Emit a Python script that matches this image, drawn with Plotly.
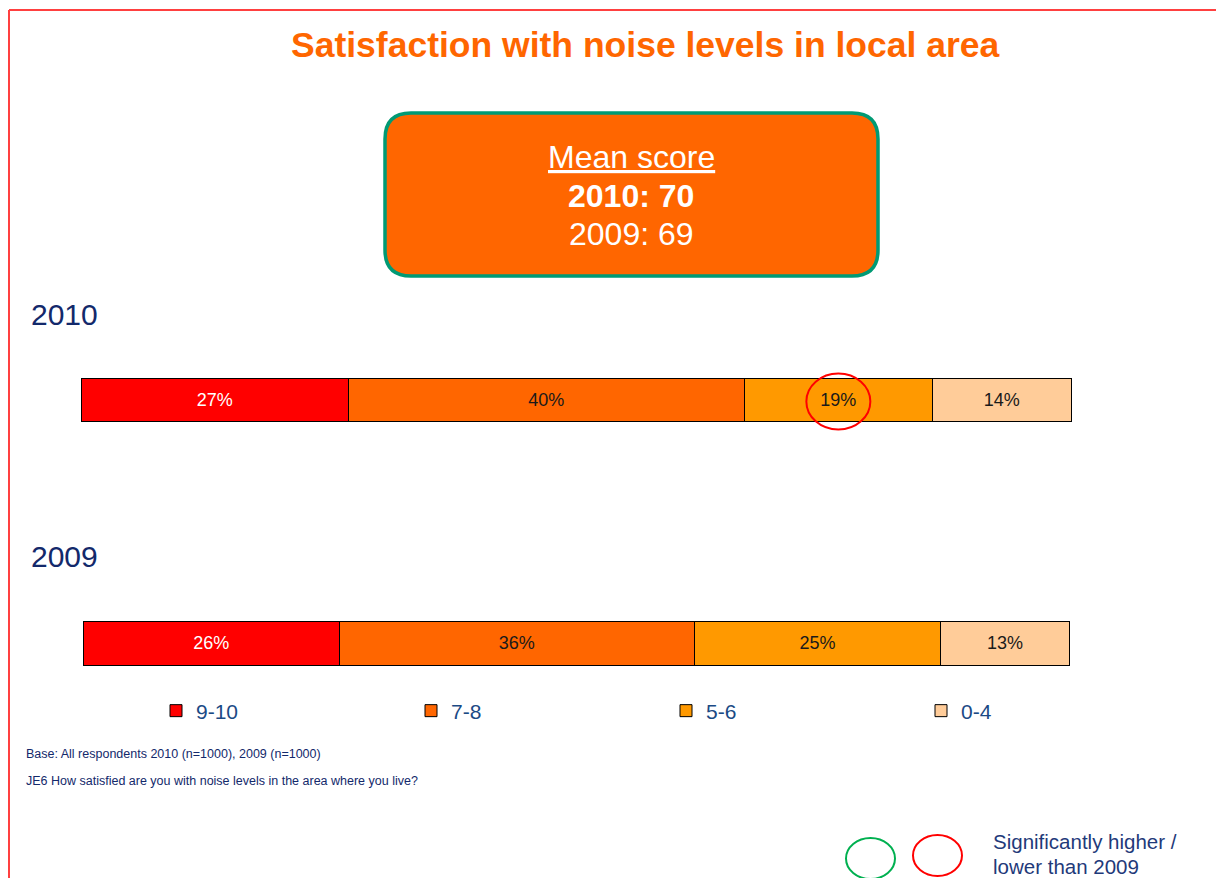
import plotly.graph_objects as go

# ---------------- data ----------------
years = ["2010", "2009"]
categories = ["9-10", "7-8", "5-6", "0-4"]
values_2010 = [27, 40, 19, 14]
values_2009 = [26, 36, 25, 13]
colors = ["#FF0000", "#FF6600", "#FF9900", "#FFCC99"]
text_colors = ["#FFFFFF", "#1A1A1A", "#1A1A1A", "#1A1A1A"]
mean_2010 = 70
mean_2009 = 69
title = "Satisfaction with noise levels in local area"
base_note = "Base: All respondents 2010 (n=1000), 2009 (n=1000)"
question_note = "JE6 How satisfied are you with noise levels in the area where you live?"
sig_note = ["Significantly higher /", "lower than 2009"]
highlight_cat = 2  # 5-6 in 2010 significantly lower

W, H = 1216, 878
FONT = "Liberation Sans, Arial, sans-serif"
NAVY = "#13296B"


def px(x):
    return x / W


def py(y):
    return 1 - y / H


fig = go.Figure()

for i, cat in enumerate(categories):
    fig.add_trace(go.Bar(
        y=[years[0]], x=[values_2010[i]], orientation="h", name=cat,
        legendgroup=cat, showlegend=True,
        marker=dict(color=colors[i], line=dict(color="#000000", width=1)),
        texttemplate="%{x}%", textposition="inside", insidetextanchor="middle",
        textangle=0, constraintext="none", cliponaxis=False,
        textfont=dict(size=18, color=text_colors[i], family=FONT),
        width=0.177, xaxis="x", yaxis="y", hoverinfo="skip",
    ))
for i, cat in enumerate(categories):
    fig.add_trace(go.Bar(
        y=[years[1]], x=[values_2009[i]], orientation="h", name=cat,
        legendgroup=cat, showlegend=False,
        marker=dict(color=colors[i], line=dict(color="#000000", width=1)),
        texttemplate="%{x}%", textposition="inside", insidetextanchor="middle",
        textangle=0, constraintext="none", cliponaxis=False,
        textfont=dict(size=18, color=text_colors[i], family=FONT),
        width=0.177, xaxis="x2", yaxis="y", hoverinfo="skip",
    ))

# ---------------- shapes ----------------
shapes = []
# frame (top + left)
shapes.append(dict(type="line", xref="paper", yref="paper", x0=px(9), y0=py(10), x1=px(1216), y1=py(10),
                   line=dict(color="#FF4040", width=2)))
shapes.append(dict(type="line", xref="paper", yref="paper", x0=px(9), y0=py(10), x1=px(9), y1=py(878),
                   line=dict(color="#FF4040", width=2)))

# rounded mean-score box
bx0, bx1, by0, by1, r = 385, 878, 113, 276, 26
path = (f"M {px(bx0 + r)},{py(by0)} L {px(bx1 - r)},{py(by0)} "
        f"Q {px(bx1)},{py(by0)} {px(bx1)},{py(by0 + r)} "
        f"L {px(bx1)},{py(by1 - r)} Q {px(bx1)},{py(by1)} {px(bx1 - r)},{py(by1)} "
        f"L {px(bx0 + r)},{py(by1)} Q {px(bx0)},{py(by1)} {px(bx0)},{py(by1 - r)} "
        f"L {px(bx0)},{py(by0 + r)} Q {px(bx0)},{py(by0)} {px(bx0 + r)},{py(by0)} Z")
shapes.append(dict(type="path", xref="paper", yref="paper", path=path,
                   fillcolor="#FF6600", line=dict(color="#009A74", width=3.5), layer="below"))

# significance circle around highlighted 2010 value
hx = sum(values_2010[:highlight_cat]) + values_2010[highlight_cat] / 2
shapes.append(dict(type="circle", xref="x", yref="y", xsizemode="pixel", ysizemode="pixel",
                   xanchor=hx, yanchor=0, x0=-32, x1=32, y0=-29, y1=27,
                   line=dict(color="#FF0000", width=2), layer="above"))

# key circles bottom right
shapes.append(dict(type="circle", xref="paper", yref="paper",
                   x0=px(846), x1=px(895), y0=py(838), y1=py(879),
                   line=dict(color="#00B050", width=2)))
shapes.append(dict(type="circle", xref="paper", yref="paper",
                   x0=px(913), x1=px(962), y0=py(835), y1=py(876),
                   line=dict(color="#FF0000", width=2)))

# ---------------- annotations ----------------
ann = []
ann.append(dict(text=f"<b>{title}</b>", x=px(645), y=py(45), xref="paper", yref="paper",
                xanchor="center", yanchor="middle", showarrow=False,
                font=dict(size=35.5, color="#FF6600", family=FONT)))
ann.append(dict(text="<u>Mean score</u>", x=px(631), y=py(157), xref="paper", yref="paper",
                xanchor="center", yanchor="middle", showarrow=False,
                font=dict(size=32, color="#FFFFFF", family=FONT)))
ann.append(dict(text=f"<b>{years[0]}: {mean_2010}</b>", x=px(631), y=py(196), xref="paper", yref="paper",
                xanchor="center", yanchor="middle", showarrow=False,
                font=dict(size=32, color="#FFFFFF", family=FONT)))
ann.append(dict(text=f"{years[1]}: {mean_2009}", x=px(631), y=py(234), xref="paper", yref="paper",
                xanchor="center", yanchor="middle", showarrow=False,
                font=dict(size=32, color="#FFFFFF", family=FONT)))
ann.append(dict(text=years[0], x=px(29), y=py(315), xref="paper", yref="paper",
                xanchor="left", yanchor="middle", showarrow=False,
                font=dict(size=30, color=NAVY, family=FONT)))
ann.append(dict(text=years[1], x=px(29), y=py(556), xref="paper", yref="paper",
                xanchor="left", yanchor="middle", showarrow=False,
                font=dict(size=30, color=NAVY, family=FONT)))
ann.append(dict(text=base_note, x=px(24), y=py(754), xref="paper", yref="paper",
                xanchor="left", yanchor="middle", showarrow=False,
                font=dict(size=12.5, color=NAVY, family=FONT)))
ann.append(dict(text=question_note, x=px(24), y=py(781), xref="paper", yref="paper",
                xanchor="left", yanchor="middle", showarrow=False,
                font=dict(size=12.5, color=NAVY, family=FONT)))
ann.append(dict(text=sig_note[0], x=px(991), y=py(841), xref="paper", yref="paper",
                xanchor="left", yanchor="middle", showarrow=False,
                font=dict(size=20.5, color="#1F3A7A", family=FONT)))
ann.append(dict(text=sig_note[1], x=px(991), y=py(866), xref="paper", yref="paper",
                xanchor="left", yanchor="middle", showarrow=False,
                font=dict(size=20.5, color="#1F3A7A", family=FONT)))

# small padding on the right so the last bar outline is not clipped
pad = 4
fig.update_layout(
    width=W, height=H,
    margin=dict(l=0, r=0, t=0, b=0),
    paper_bgcolor="white", plot_bgcolor="rgba(0,0,0,0)",
    barmode="stack",
    font=dict(family=FONT),
    xaxis=dict(domain=[px(81), px(1071 + pad)], range=[0, 100 + pad * 100 / (1071 - 81)],
               visible=False, fixedrange=True, anchor="y"),
    xaxis2=dict(domain=[px(83), px(1069 + pad)], range=[0, 100 + pad * 100 / (1069 - 83)],
                visible=False, fixedrange=True, anchor="y"),
    yaxis=dict(domain=[0, 1], type="category", categoryorder="array", categoryarray=years,
               range=[1.965, -1.648], autorange=False, visible=False, fixedrange=True),
    legend=dict(orientation="h", x=px(156), y=py(711), xanchor="left", yanchor="middle",
                entrywidth=210, entrywidthmode="pixels", traceorder="normal",
                font=dict(size=21, color="#1B4A85", family=FONT),
                bgcolor="rgba(0,0,0,0)"),
    showlegend=True,
    shapes=shapes,
    annotations=ann,
)

fig.write_html(
    "out.html",
    config={"displayModeBar": False},
    post_script="document.body.style.margin='0';document.body.style.overflow='hidden';",
)
